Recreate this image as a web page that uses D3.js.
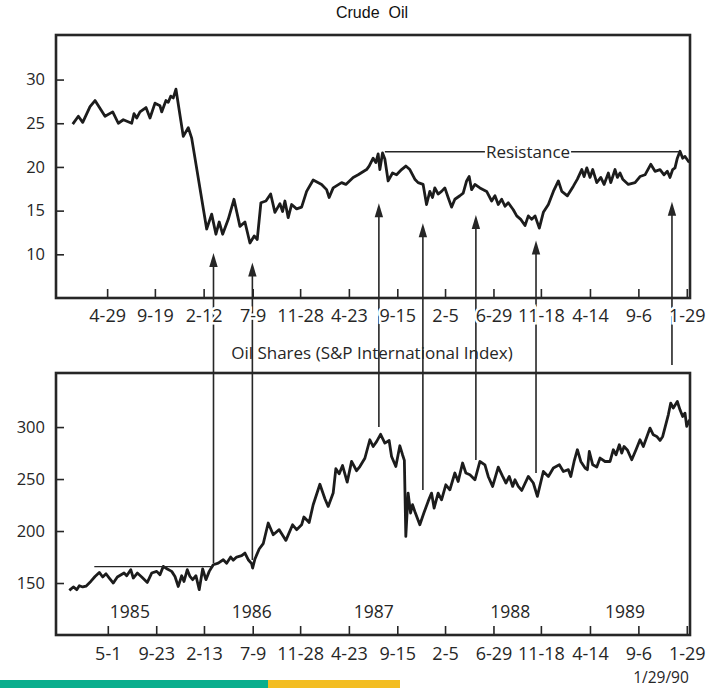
<!DOCTYPE html>
<html><head><meta charset="utf-8">
<script src="https://cdn.jsdelivr.net/npm/d3@7"></script>
<style>body{margin:0;background:#fff} svg{display:block}</style>
</head><body>
<svg id="c" width="708" height="688"></svg>
<script>
// ---------- data (time as decimal years) ----------
const crudeTimes = [1985.041,1985.087,1985.123,1985.183,1985.224,1985.306,1985.369,1985.415,1985.456,1985.525,
1985.544,1985.566,1985.593,1985.642,1985.675,1985.716,1985.757,1985.771,1985.806,1985.825,
1985.845,1985.866,1985.888,1985.948,1985.989,1986.017,1986.140,1986.181,1986.216,1986.243,
1986.271,1986.317,1986.364,1986.413,1986.454,1986.495,1986.530,1986.555,1986.585,1986.626,
1986.665,1986.700,1986.741,1986.763,1986.782,1986.809,1986.837,1986.878,1986.919,1986.960,
1987.014,1987.083,1987.124,1987.145,1987.178,1987.247,1987.282,1987.342,1987.383,1987.452,
1987.473,1987.506,1987.528,1987.547,1987.561,1987.583,1987.602,1987.629,1987.665,1987.698,
1987.739,1987.774,1987.807,1987.848,1987.875,1987.916,1987.944,1987.971,1987.993,1988.012,
1988.039,1988.067,1988.094,1988.121,1988.149,1988.176,1988.217,1988.244,1988.272,1988.293,
1988.313,1988.340,1988.381,1988.436,1988.477,1988.504,1988.531,1988.559,1988.586,1988.613,
1988.654,1988.682,1988.715,1988.750,1988.777,1988.805,1988.832,1988.867,1988.900,1988.941,
1988.982,1989.023,1989.051,1989.097,1989.146,1989.179,1989.215,1989.234,1989.256,1989.283,
1989.305,1989.338,1989.371,1989.398,1989.433,1989.453,1989.488,1989.507,1989.529,1989.551,
1989.597,1989.652,1989.693,1989.734,1989.781,1989.816,1989.857,1989.890,1989.917,1989.939,
1989.961,1989.980,1989.999,1990.021,1990.043,1990.062,1990.097];
const crudeValues = [24.9,25.8,25.1,26.9,27.6,25.8,26.3,25.0,25.4,25.0,
26.1,25.6,26.3,26.8,25.6,27.3,27.0,26.3,27.6,27.4,
28.1,27.9,28.9,23.5,24.5,23.3,12.9,14.6,12.3,13.7,
12.3,14.0,16.3,13.2,13.7,11.3,12.1,11.7,15.9,16.1,
16.9,14.8,15.8,14.9,16.1,14.2,15.7,15.2,15.4,17.2,
18.5,18.0,17.4,16.5,17.6,18.2,18.0,18.8,19.1,19.7,
20.1,21.0,20.5,21.5,19.7,21.6,20.9,18.4,19.3,19.1,
19.7,20.1,19.7,18.6,18.2,18.0,15.7,17.2,16.5,17.6,
16.9,17.2,17.6,16.5,15.4,16.3,16.7,17.0,18.4,18.9,
17.4,18.0,17.6,17.2,16.1,16.7,15.7,16.3,15.5,15.9,
15.1,14.4,14.0,13.3,14.4,14.0,14.4,13.0,14.8,15.7,
17.2,18.4,17.2,16.7,17.8,18.6,19.7,18.9,19.9,18.8,
19.7,18.2,18.8,18.0,19.3,18.2,19.7,18.8,19.3,18.6,
18.0,18.2,18.9,19.1,20.3,19.5,19.7,19.1,19.5,18.8,
19.7,19.9,21.0,21.8,21.0,21.2,20.5];

const sharesTimes = [1985.013,1985.046,1985.074,1985.095,1985.123,1985.150,1985.189,1985.224,1985.259,1985.287,
1985.314,1985.341,1985.374,1985.407,1985.462,1985.484,1985.517,1985.538,1985.571,1985.607,
1985.653,1985.689,1985.730,1985.757,1985.784,1985.817,1985.853,1985.880,1985.907,1985.935,
1985.954,1985.981,1986.003,1986.025,1986.052,1986.079,1986.107,1986.134,1986.161,1986.194,
1986.235,1986.276,1986.304,1986.337,1986.358,1986.386,1986.427,1986.454,1986.481,1986.509,
1986.517,1986.536,1986.571,1986.604,1986.645,1986.686,1986.735,1986.790,1986.845,1986.878,
1986.919,1986.938,1986.981,1987.014,1987.069,1987.110,1987.137,1987.178,1987.200,1987.227,
1987.255,1987.293,1987.329,1987.370,1987.397,1987.438,1987.479,1987.506,1987.534,1987.567,
1987.602,1987.637,1987.657,1987.692,1987.725,1987.747,1987.762,1987.774,1987.793,1987.813,
1987.829,1987.848,1987.889,1987.922,1987.957,1987.985,1988.006,1988.039,1988.067,1988.102,
1988.135,1988.176,1988.203,1988.239,1988.266,1988.299,1988.340,1988.381,1988.422,1988.449,
1988.485,1988.531,1988.567,1988.594,1988.621,1988.649,1988.668,1988.695,1988.723,1988.777,
1988.818,1988.851,1988.900,1988.941,1988.982,1989.031,1989.064,1989.105,1989.125,1989.152,
1989.179,1989.207,1989.242,1989.261,1989.277,1989.305,1989.338,1989.365,1989.406,1989.447,
1989.474,1989.496,1989.523,1989.543,1989.562,1989.589,1989.625,1989.660,1989.693,1989.720,
1989.775,1989.802,1989.830,1989.857,1989.879,1989.925,1989.945,1989.966,1989.999,1990.021,
1990.043,1990.062,1990.076,1990.099];
const sharesValues = [142.9,146.2,143.6,147.4,146.2,147,151.5,156.3,160.2,155.8,
158.9,154.8,150,155.8,159.6,157,162.8,154.8,159.6,155.8,
150.6,159.6,161.2,158,166,163.5,161.2,156.3,146.7,157,
151.5,162.8,156.3,153.2,157,143.6,163.5,153.2,161.2,167.6,
169.2,172.4,169,175,172,175,176.3,178.8,172.4,168.6,
164.4,173.1,182.7,187.8,207.7,196.4,201.3,191,206,201.3,
206,213.5,208.3,225.3,245,231,223.7,236.5,260,255,
263,247,267,258,262,270,287.8,281.3,286,293,
284.6,287.1,271.7,262.1,282,273.4,268,194.8,236.5,217.3,
225.3,218.8,206,217.3,228.5,236.5,222.1,236.5,230,244.5,
239.7,255.8,247.7,265.4,255.8,254.1,249.3,266.9,263.7,252.5,
242.9,261.5,252.5,246.2,252.5,242.9,249.3,243,239,252.5,
246.2,233.3,257.3,252.5,260.6,263.7,257.3,259,252.5,266.9,
278.2,266.9,260.6,259,276.5,263.7,261.5,270.2,266.9,266.9,
278.2,273.4,283,275,281.3,278,268.6,278.2,287.8,281.3,
299,292.6,291,287.1,291,311.8,323.1,318.3,324.6,316.6,
310.2,313.4,300.6,307];

const topTickDates = ["1985-04-29","1985-09-19","1986-02-12","1986-07-09","1986-11-28","1987-04-23","1987-09-15",
  "1988-02-05","1988-06-29","1988-11-18","1989-04-14","1989-09-06","1990-01-29"];
const bottomTickDates = ["1985-05-01","1985-09-23","1986-02-13","1986-07-09","1986-11-28","1987-04-23","1987-09-15",
  "1988-02-05","1988-06-29","1988-11-18","1989-04-14","1989-09-06","1990-01-29"];
const crudeYTicks = [10, 15, 20, 25, 30];
const sharesYTicks = [150, 200, 250, 300];
const yearLabels = ["1985", "1986", "1987", "1988", "1989"];
const yearLabelTimes = [1985.51, 1986.51, 1987.51, 1988.63, 1989.57];
// arrows linking the two panels
const arrowTimes = [1986.196, 1986.515, 1987.553, 1987.914, 1988.348, 1988.840, 1989.955];
const arrowTipCrude = [10.15, 9.06, 15.84, 13.55, 14.5, 11.58, 16.02];
const arrowBaseShares = [169.3, 172.1, 300.1, 239.5, 268.3, 255.8, 359.7];
// horizontal reference lines
const resistanceValue = 21.74, resistanceSpan = [1987.602, 1990.013];
const supportValue = 165.7, supportSpan = [1985.218, 1986.194];
const timeDomain = [1984.904, 1990.103];
const crudeDomain = [5, 35.1];
const sharesDomain = [100, 352];

(function(){
function toDate(t){ const y = Math.floor(t); const s = Date.UTC(y,0,1), e = Date.UTC(y+1,0,1); return new Date(s + (t-y)*(e-s)); }
const parse = d3.utcParse("%Y-%m-%d");
const fmt = d3.utcFormat("%-m-%-d");
const INK = "#262626";
const FONT = "'Open Sans', sans-serif";

const svg = d3.select("#c");
svg.append("rect").attr("width",708).attr("height",688).attr("fill","#fff");

const L = 56, R = 690;
const pTop = {t:35, b:298}, pBot = {t:373, b:635};

const x = d3.scaleUtc().domain(timeDomain.map(toDate)).range([L, R]);
const yC = d3.scaleLinear().domain(crudeDomain).range([pTop.b, pTop.t]);
const yS = d3.scaleLinear().domain(sharesDomain).range([pBot.b, pBot.t]);

const defs = svg.append("defs");
defs.append("clipPath").attr("id","clipTop").append("rect").attr("x",L).attr("y",pTop.t).attr("width",R-L).attr("height",pTop.b-pTop.t);
defs.append("clipPath").attr("id","clipBot").append("rect").attr("x",L).attr("y",pBot.t).attr("width",R-L+1).attr("height",pBot.b-pBot.t);

svg.append("text").attr("x",372).attr("y",18).attr("text-anchor","middle")
  .attr("font-family","'Liberation Sans', Arial, sans-serif").attr("font-size",16).attr("fill","#111")
  .style("white-space","pre").text("Crude  Oil");

svg.append("text").attr("x",372).attr("y",359).attr("text-anchor","middle")
  .attr("font-family",FONT).attr("font-size",17).attr("fill",INK)
  .text("Oil Shares (S&P International Index)");

const arrows = svg.append("g");
arrowTimes.forEach((t,i)=>{
  const ax = x(toDate(t));
  const tipY = yC(arrowTipCrude[i]);
  const baseY = yS(arrowBaseShares[i]);
  arrows.append("line").attr("x1",ax).attr("x2",ax).attr("y1",baseY).attr("y2",tipY+10)
    .attr("stroke",INK).attr("stroke-width",1.6);
  arrows.append("path").attr("d",`M${ax},${tipY} L${ax-4.2},${tipY+14} L${ax+4.2},${tipY+14} Z`).attr("fill",INK);
});

function styleAxis(g, size){
  g.select(".domain").remove();
  g.selectAll(".tick line").attr("stroke",INK).attr("stroke-width",1.6);
  g.selectAll(".tick text").attr("fill",INK).attr("font-family",FONT).attr("font-size",size);
}
const gxTop = svg.append("g").attr("transform",`translate(0,${pTop.b})`)
  .call(d3.axisBottom(x).tickValues(topTickDates.map(parse)).tickFormat(fmt).tickSize(-9).tickPadding(11));
styleAxis(gxTop, 18);
gxTop.selectAll(".tick text").attr("stroke","#fff").attr("stroke-width",5).attr("paint-order","stroke");

const gxBot = svg.append("g").attr("transform",`translate(0,${pBot.b})`)
  .call(d3.axisBottom(x).tickValues(bottomTickDates.map(parse)).tickFormat(fmt).tickSize(-9).tickPadding(12));
styleAxis(gxBot, 18);

const gyTop = svg.append("g").attr("transform",`translate(${L},0)`)
  .call(d3.axisLeft(yC).tickValues(crudeYTicks).tickSize(-8).tickPadding(11));
styleAxis(gyTop, 16.5);
const gyBot = svg.append("g").attr("transform",`translate(${L},0)`)
  .call(d3.axisLeft(yS).tickValues(sharesYTicks).tickSize(-8).tickPadding(11));
styleAxis(gyBot, 16.5);

const crudeData = crudeTimes.map((t,i)=>({d:toDate(t), v:crudeValues[i]}));
const sharesData = sharesTimes.map((t,i)=>({d:toDate(t), v:sharesValues[i]}));
svg.append("path").datum(crudeData).attr("clip-path","url(#clipTop)")
  .attr("d", d3.line().x(p=>x(p.d)).y(p=>yC(p.v)))
  .attr("fill","none").attr("stroke","#1c1c1c").attr("stroke-width",2.8).attr("stroke-linejoin","round");
svg.append("path").datum(sharesData).attr("clip-path","url(#clipBot)")
  .attr("d", d3.line().x(p=>x(p.d)).y(p=>yS(p.v)))
  .attr("fill","none").attr("stroke","#1c1c1c").attr("stroke-width",2.8).attr("stroke-linejoin","round");

const rx0 = x(toDate(resistanceSpan[0])), rx1 = x(toDate(resistanceSpan[1])), ry = yC(resistanceValue);
const rLab = svg.append("text").attr("x", 528).attr("y", ry).attr("dy","0.35em").attr("text-anchor","middle")
  .attr("font-family",FONT).attr("font-size",17).attr("fill",INK).text("Resistance");
const rw = rLab.node().getComputedTextLength();
svg.append("line").attr("x1",rx0).attr("x2",528-rw/2-1).attr("y1",ry).attr("y2",ry).attr("stroke",INK).attr("stroke-width",1.3);
svg.append("line").attr("x1",528+rw/2+1).attr("x2",rx1).attr("y1",ry).attr("y2",ry).attr("stroke",INK).attr("stroke-width",1.3);

svg.append("line").attr("x1",x(toDate(supportSpan[0]))).attr("x2",x(toDate(supportSpan[1])))
  .attr("y1",yS(supportValue)).attr("y2",yS(supportValue)).attr("stroke",INK).attr("stroke-width",1.3);

svg.append("g").selectAll("text").data(yearLabels).join("text")
  .attr("x",(d,i)=>x(toDate(yearLabelTimes[i]))).attr("y",618).attr("text-anchor","middle")
  .attr("font-family",FONT).attr("font-size",17.5).attr("fill",INK).text(d=>d);

[pTop, pBot].forEach(p=>{
  svg.append("rect").attr("x",L).attr("y",p.t).attr("width",R-L).attr("height",p.b-p.t)
    .attr("fill","none").attr("stroke",INK).attr("stroke-width",2.6);
});

svg.append("text").attr("x",661).attr("y",683).attr("text-anchor","middle")
  .attr("font-family",FONT).attr("font-size",15.5).attr("fill",INK).text("1/29/90");

svg.append("rect").attr("x",0).attr("y",680).attr("width",268).attr("height",8).attr("fill","#0aae8d");
svg.append("rect").attr("x",268).attr("y",680).attr("width",132).attr("height",8).attr("fill","#f3bd22");
})();
</script>
</body></html>
